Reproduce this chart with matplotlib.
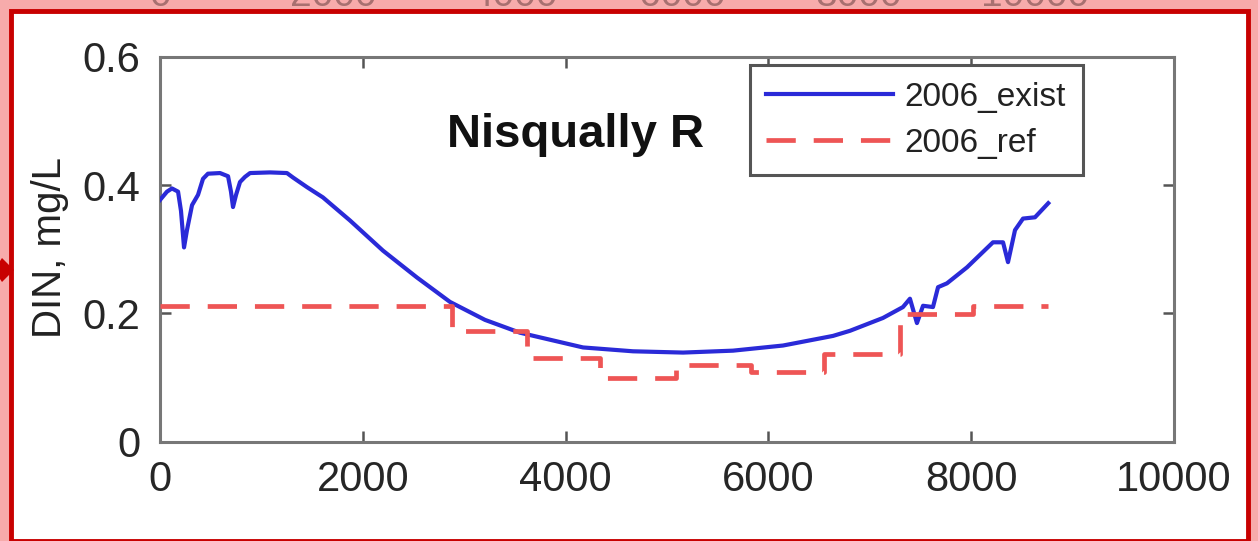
import matplotlib
matplotlib.use("Agg")
import matplotlib.pyplot as plt
from matplotlib.patches import Rectangle
import numpy as np

plt.rcParams['font.family'] = ['Liberation Sans', 'DejaVu Sans']

# ---- data ----
exist_hours = [0, 69, 118, 178, 207, 237, 266, 316, 375, 424, 473, 592, 671, 700, 720,
               750, 789, 838, 888, 1085, 1252, 1312, 1450, 1607, 1874, 2199, 2535,
               2860, 3205, 3550, 4172, 4665, 5158, 5651, 6144, 6637, 6805, 7130, 7327,
               7396, 7465, 7525, 7623, 7673, 7761, 7959, 8215, 8314, 8363, 8432, 8511,
               8629, 8760]
exist_din = [0.377, 0.390, 0.395, 0.390, 0.360, 0.303, 0.330, 0.369, 0.385, 0.410,
             0.418, 0.419, 0.414, 0.390, 0.366, 0.385, 0.405, 0.413, 0.419, 0.420,
             0.419, 0.412, 0.397, 0.381, 0.345, 0.298, 0.256, 0.218, 0.190, 0.170,
             0.147, 0.141, 0.139, 0.142, 0.150, 0.165, 0.173, 0.193, 0.210, 0.223,
             0.185, 0.212, 0.210, 0.241, 0.247, 0.272, 0.311, 0.311, 0.280, 0.330,
             0.348, 0.350, 0.372]

month_days = [31, 28, 31, 30, 31, 30, 31, 31, 30, 31, 30, 31]
ref_din = [0.211, 0.211, 0.211, 0.211, 0.173, 0.130, 0.100, 0.119, 0.108, 0.137, 0.199, 0.211]

xticks = [0, 2000, 4000, 6000, 8000, 10000]
xtick_labels = ['0', '2000', '4000', '6000', '8000', '10000']
yticks = [0, 0.2, 0.4, 0.6]
ytick_labels = ['0', '0.2', '0.4', '0.6']
ghost_labels = ['0', '2000', '4000', '6000', '8000', '10000']

# ---- figure ----
W, H = 1258, 541
fig = plt.figure(figsize=(W / 100, H / 100), dpi=100)
fig.patch.set_facecolor('#f7abab')
fig.patches.append(Rectangle((10.5 / W, 0.0), (1248 - 10.5) / W, (530.5) / H,
                             transform=fig.transFigure, facecolor='white',
                             edgecolor='#c80000', linewidth=3.5, zorder=-2))

# ghost tick labels of a chart above (cut off at the top edge, as in the screenshot)
ghost_px = [160, 333, 514, 682, 859, 1035]
for gx, gl in zip(ghost_px, ghost_labels):
    fig.text(gx / W, (H - 6) / H, gl, ha='center', va='baseline', fontsize=28,
             color='#a87070', zorder=-1)

# red marker on the left edge
fig.patches.append(plt.Polygon([[2 / W, (H - 258) / H], [14 / W, (H - 270) / H],
                                [2 / W, (H - 282) / H], [-6 / W, (H - 270) / H]],
                               closed=True, transform=fig.transFigure,
                               facecolor='#c80000', edgecolor='none', zorder=-1))

ax = fig.add_axes([160 / W, (H - 441.7) / H, (1174 - 160) / W, (441.7 - 57) / H])
ax.set_zorder(1)

edges = np.concatenate([[0], np.cumsum(month_days) * 24])
ref_x = edges
ref_y = ref_din + [ref_din[-1]]

ax.plot(exist_hours, exist_din, color='#2a2ad8', linewidth=3.0, label='2006_exist',
        solid_joinstyle='round', zorder=3)
ax.step(ref_x, ref_y, where='post', color='#ee5555', linewidth=3.4,
        linestyle=(0, (6.2, 3.8)), label='2006_ref', zorder=4)

ax.set_xlim(0, 10000)
ax.set_ylim(0, 0.6)
ax.set_xticks(xticks)
ax.set_xticklabels(xtick_labels)
ax.set_yticks(yticks)
ax.set_yticklabels(ytick_labels)
ax.tick_params(direction='in', length=8, width=1.8, color='#555555',
               labelsize=30, labelcolor='#262626', top=True, right=True)
ax.tick_params(axis='x', pad=13)
ax.tick_params(axis='y', pad=14)
for s in ax.spines.values():
    s.set_color('#777777')
    s.set_linewidth(2.2)

ax.text(4103, 0.459, 'Nisqually R', ha='center', va='baseline', fontsize=34,
        fontweight='bold', color='#111111')

fig.text(50 / W, (H - 248) / H, 'DIN, mg/L', rotation=90, ha='center', va='center',
         fontsize=29, color='#222222')

leg = ax.legend(loc='upper right', bbox_to_anchor=(0.910, 0.979), fontsize=24,
                handlelength=3.8, handletextpad=0.35, borderpad=0.5,
                labelspacing=0.45, fancybox=False, framealpha=1, borderaxespad=0)
leg.get_frame().set_edgecolor('#555555')
leg.get_frame().set_linewidth(2.2)
for t in leg.get_texts():
    t.set_color('#222222')

fig.savefig('out.png', dpi=100, facecolor=fig.get_facecolor())
